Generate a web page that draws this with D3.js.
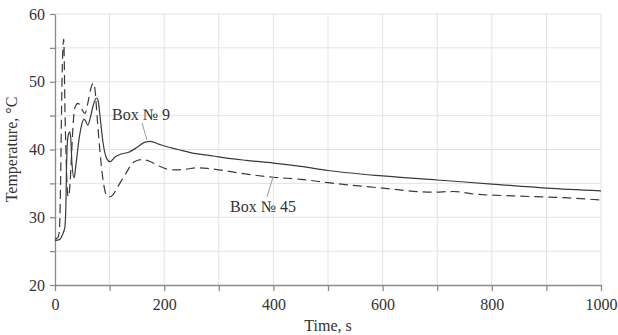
<!DOCTYPE html>
<html>
<head>
<meta charset="utf-8">
<script src="https://cdn.jsdelivr.net/npm/d3@7"></script>
<style>
  body { margin: 0; background: #fff; }
  text { font-family: "Liberation Serif", "DejaVu Serif", serif; fill: #333; }
</style>
</head>
<body>
<svg class="chart"></svg>
<script>
let width = 618
let height = 335
let margin = { top: 14, right: 17, bottom: 50, left: 55 }

// Box No 9 (solid)
let box9Time = [0, 8, 14, 18, 20, 21, 22, 24, 27, 29, 31, 35, 38, 44, 50, 53, 56, 60, 65, 70, 76, 79, 83, 88, 94, 101,
  110, 120, 135, 150, 165, 175, 190, 205, 225, 250, 285, 300, 350, 400, 450, 500, 600, 700, 800, 900, 1000]
let box9Temp = [26.6, 26.7, 27.5, 28.5, 32, 37, 40, 42, 42.6, 41.5, 38, 35.8, 37.5, 41.5, 44, 44.5, 44.2, 43.6, 44.8, 46.5, 47.6, 47.2, 44.5, 41, 38.8, 38.2,
  38.9, 39.3, 39.6, 40.3, 41.1, 41.2, 40.8, 40.4, 40, 39.5, 39.1, 38.9, 38.4, 38, 37.5, 36.9, 36.1, 35.5, 34.9, 34.3, 33.9]

// Box No 45 (dashed)
let box45Time = [0, 5, 8, 10, 12, 14, 16, 17, 18, 20, 22, 24, 26, 29, 32, 35, 38, 42, 46, 50, 55, 60, 65, 70, 73, 77, 82, 88, 94, 100,
  106, 115, 130, 145, 160, 175, 190, 205, 220, 240, 260, 280, 300, 340, 400, 450, 500, 600, 690, 730, 770, 840, 940, 1000]
let box45Temp = [26.8, 27, 28, 34, 46, 54, 56.3, 53, 47, 40, 35, 33, 33.5, 37, 42, 45.5, 46.5, 46.8, 46.5, 45.8, 45.3, 46.8, 48.8, 49.8, 49, 45, 40, 35.5, 33.3, 33,
  33.3, 34.5, 36.5, 38.2, 38.5, 38.2, 37.6, 37.1, 37, 37.1, 37.3, 37.2, 37, 36.5, 35.9, 35.6, 35.1, 34.3, 33.7, 33.8, 33.4, 33.15, 32.85, 32.55]

let xTicks = [0, 100, 200, 300, 400, 500, 600, 700, 800, 900, 1000]
let yTicks = [20, 25, 30, 35, 40, 45, 50, 55, 60]

let box9 = box9Time.map((t, i) => ({ t: t, v: box9Temp[i] }))
let box45 = box45Time.map((t, i) => ({ t: t, v: box45Temp[i] }))

let svg = d3.select(".chart")
  .attr("width", width)
  .attr("height", height)

let x = d3.scaleLinear().domain([0, 1000]).range([margin.left, width - margin.right])
let y = d3.scaleLinear().domain([20, 60]).range([height - margin.bottom, margin.top])

// grid
svg.append("g")
  .selectAll("line")
  .data(xTicks.slice(1))
  .enter()
  .append("line")
  .attr("x1", (d) => x(d)).attr("x2", (d) => x(d))
  .attr("y1", y(20)).attr("y2", y(60))
  .attr("stroke", "#e3e3e3")

svg.append("g")
  .selectAll("line")
  .data(yTicks.slice(1))
  .enter()
  .append("line")
  .attr("x1", x(0)).attr("x2", x(1000))
  .attr("y1", (d) => y(d)).attr("y2", (d) => y(d))
  .attr("stroke", "#e3e3e3")

// axes
let xAxis = svg.append("g")
  .attr("transform", `translate(0, ${y(20)})`)
  .call(d3.axisBottom(x).tickValues(xTicks).tickSize(6).tickSizeOuter(0)
    .tickFormat((d) => d % 200 === 0 ? d : ""))

let yAxis = svg.append("g")
  .attr("transform", `translate(${x(0)}, 0)`)
  .call(d3.axisLeft(y).tickValues(yTicks).tickSize(5).tickSizeOuter(0)
    .tickFormat((d) => d % 10 === 0 ? d : ""))

svg.selectAll(".domain, .tick line").attr("stroke", "#8a8a8a").attr("stroke-width", 1.3)
svg.selectAll(".tick text").attr("font-size", 16).attr("fill", "#333")
  .style("font-family", "'Liberation Serif', serif")
xAxis.selectAll(".tick text").attr("dy", "1.0em")
yAxis.selectAll(".tick text").attr("x", -10)

// lines
let line = d3.line()
  .x((d) => x(d.t))
  .y((d) => y(d.v))
  .curve(d3.curveMonotoneX)

svg.append("path")
  .datum(box9)
  .attr("d", line)
  .attr("fill", "none")
  .attr("stroke", "#3a3a3a")
  .attr("stroke-width", 1.2)

svg.append("path")
  .datum(box45)
  .attr("d", line)
  .attr("fill", "none")
  .attr("stroke", "#3a3a3a")
  .attr("stroke-width", 1.2)
  .attr("stroke-dasharray", "9,5")

// annotations
svg.append("line")
  .attr("x1", 142).attr("y1", 123)
  .attr("x2", 147).attr("y2", 140)
  .attr("stroke", "#999")
svg.append("text")
  .attr("x", 112).attr("y", 120)
  .attr("font-size", 16)
  .text("Box № 9")

svg.append("line")
  .attr("x1", 273).attr("y1", 177)
  .attr("x2", 267).attr("y2", 197)
  .attr("stroke", "#999")
svg.append("text")
  .attr("x", 230).attr("y", 212)
  .attr("font-size", 16)
  .text("Box № 45")

// axis titles
svg.append("text")
  .attr("transform", `translate(17, ${(y(20) + y(60)) / 2}) rotate(-90)`)
  .attr("text-anchor", "middle")
  .attr("font-size", 16)
  .text("Temperature, °C")

svg.append("text")
  .attr("x", (x(0) + x(1000)) / 2)
  .attr("y", 331)
  .attr("text-anchor", "middle")
  .attr("font-size", 16)
  .text("Time, s")
</script>
</body>
</html>
